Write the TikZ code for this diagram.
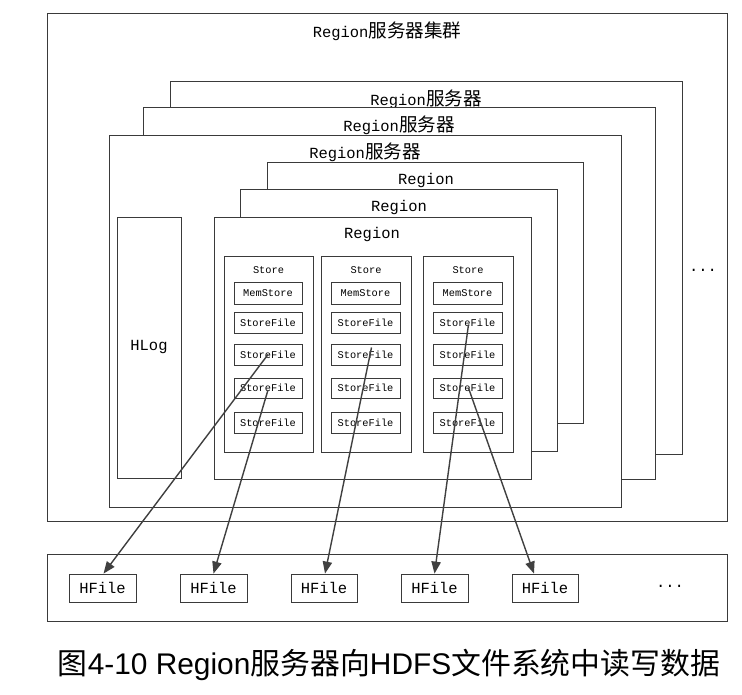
\documentclass[tikz,border=0pt]{standalone}
\usepackage{fontspec}
\usetikzlibrary{fit,arrows.meta}
\newfontfamily\monofam{Liberation Mono}
\newfontfamily\cjkl[Scale=1.2]{Noto Sans CJK SC}
\newfontfamily\cjkc{Noto Sans CJK SC}
\newfontfamily\capfam{Liberation Sans}
\newcommand\zh[1]{{\cjkl #1}}
\newcommand\zc[1]{{\cjkc #1}}
\definecolor{linec}{HTML}{3A3A3A}
\definecolor{arrowc}{HTML}{404040}
\tikzset{
  box/.style={draw=linec, line width=0.6pt, fill=white, inner sep=0pt},
  lbl/.style={font=\monofam\fontsize{11.6}{14}\selectfont, inner sep=0pt, text=black},
  small/.style={font=\monofam\fontsize{7.75}{9}\selectfont, inner sep=0pt, text=black},
  flow/.style={draw=arrowc, line width=1.05pt, -{Triangle[length=9pt,width=7pt]}},
}
\begin{document}
\begin{tikzpicture}[x=0.75pt,y=-0.75pt]
\useasboundingbox (0,0) rectangle (742,695);
% cluster
\node[box, fit={(47,13)(727,521)}] (cluster) {};
\node[lbl] (tcluster) at (387,31) {Region\zh{服务器集群}};
% servers
\node[box, fit={(170,81)(682,454)}] (srv3) {};
\node[lbl] (tsrv3) at (426,99) {Region\zh{服务器}};
\node[box, fit={(143,107)(655,479)}] (srv2) {};
\node[lbl] (tsrv2) at (399,125) {Region\zh{服务器}};
\node[box, fit={(109,135)(621,507)}] (srv1) {};
\node[lbl] (tsrv1) at (365,152) {Region\zh{服务器}};
\node[lbl] (more1) at (703,270) {...};
% HLog
\node[box, fit={(117,217)(181,478)}] (hlog) {};
\node[lbl] (thlog) at (149,347) {HLog};
% regions
\node[box, fit={(267,162)(583,423)}] (reg3) {};
\node[lbl] (treg3) at (426,180) {Region};
\node[box, fit={(240,189)(557,451)}] (reg2) {};
\node[lbl] (treg2) at (399,207) {Region};
\node[box, fit={(214,217)(531,479)}] (reg1) {};
\node[lbl] (treg1) at (372,234) {Region};
% stores
\foreach \i/\xa/\xb/\fa/\fb in {1/224/313/234/302, 2/321/411/331/400, 3/423/513/433/502}{
  \node[box, fit={(\xa,256)(\xb,452)}] (st\i) {};
  \node[small] (tst\i) at ({(\xa+\xb)/2},270) {Store};
  \node[box, fit={(\fa,282)(\fb,304)}] (s\i m) {};
  \node[small] at (s\i m.center) {MemStore};
  \foreach \j/\ya/\yb in {1/312/333, 2/344/365, 3/378/398, 4/412/433}{
    \node[box, fit={(\fa,\ya)(\fb,\yb)}] (s\i f\j) {};
    \node[small] at (s\i f\j.center) {StoreFile};
  }
}
% HDFS
\node[box, fit={(47,554)(727,621)}] (hdfs) {};
\foreach \k/\xa/\xb in {1/69/136, 2/180/247, 3/291/357, 4/401/468, 5/512/578}{
  \node[box, fit={(\xa,574)(\xb,602)}] (h\k) {};
  \node[lbl] (th\k) at (h\k.center) {HFile};
}
\node[lbl] (more2) at (670,586) {...};
% arrows
\draw[flow] (s1f2.center) -- ([xshift=0.75pt]h1.north);
\draw[flow] ([shift={(0,2)}]s1f3.center) -- (h2.north);
\draw[flow] ([shift={(6,-7)}]s2f2.center) -- ([xshift=0.75pt]h3.north);
\draw[flow] ([shift={(1,2)}]s3f1.center) -- (h4.north);
\draw[flow] ([shift={(1,0)}]s3f3.center) -- ([xshift=-8.25pt]h5.north);
% caption
\node[font=\capfam\fontsize{22.4}{26}\selectfont, inner sep=0pt] (caption) at (389,665)
  {\zc{图}4-10 Region\zc{服务器向}HDFS\zc{文件系统中读写数据}};
\end{tikzpicture}
\end{document}
